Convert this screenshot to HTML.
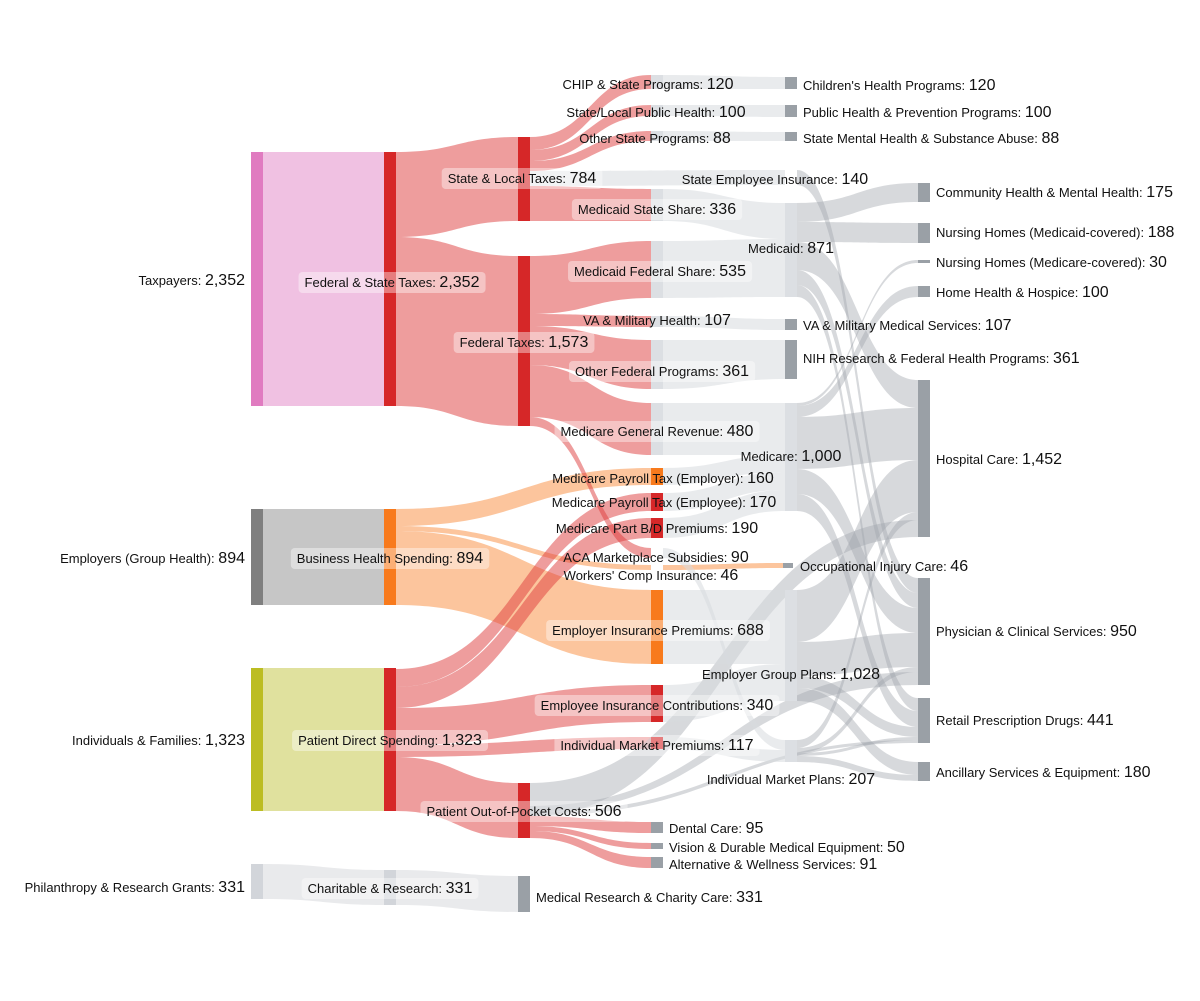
<!DOCTYPE html>
<html><head><meta charset="utf-8">
<style>
html,body{margin:0;padding:0;background:#fff;}
svg{display:block;}
text{font-family:"Liberation Sans",Arial,sans-serif;font-size:13px;fill:#111;}
tspan.n{font-size:16px;}
</style></head>
<body>
<svg id="s" width="1200" height="1001" xmlns="http://www.w3.org/2000/svg"><g id="L"></g><g id="N"></g><g id="T"></g></svg>
<script>
var NS="http://www.w3.org/2000/svg";
var L=document.getElementById('L'),N=document.getElementById('N'),T=document.getElementById('T');
function el(p,tag,a){var e=document.createElementNS(NS,tag);for(var k in a)e.setAttribute(k,a[k]);p.appendChild(e);return e;}
var RED='rgba(222,60,60,0.5)',ORG='rgba(249,140,60,0.5)',GRY='rgba(160,165,172,0.42)',LG='rgba(215,218,222,0.55)';
function link(x0,a0,b0,x1,a1,b1,c){
 var m=(x0+x1)/2;
 var d='M'+x0+','+a0+' C'+m+','+a0+' '+m+','+a1+' '+x1+','+a1+' L'+x1+','+b1+' C'+m+','+b1+' '+m+','+b0+' '+x0+','+b0+' Z';
 el(L,'path',{d:d,fill:c});
}
function node(x,y0,y1,c,w){el(N,'rect',{x:x,y:y0,width:w||12,height:y1-y0,fill:c});}
function lab(x,y,t,n,anchor,bg){
 var e=el(T,'text',{x:x,y:y,'text-anchor':anchor||'start'});
 e.appendChild(document.createTextNode(t+': '));
 var s=el(e,'tspan',{'class':'n'});s.textContent=n;
 if(bg){var b=e.getBBox();var r=document.createElementNS(NS,'rect');
  r.setAttribute('x',b.x-6);r.setAttribute('y',b.y-2);r.setAttribute('width',b.width+12);r.setAttribute('height',b.height+4);
  r.setAttribute('rx',4);r.setAttribute('fill','rgba(255,255,255,0.4)');T.insertBefore(r,e);}
}
// col0->col1
link(263,152,406,384,152,406,'#f0c1e2');
link(263,509,605,384,509,605,'#c6c6c6');
link(263,668,811,384,668,811,'#e0e19e');
link(263,864,899,384,870,905,'#e9eaec');
// col1->col2/3
link(396,152,237,518,137,221,RED);
link(396,237,406,518,256,426,RED);
link(396,509,526,651,468,485,ORG);
link(396,526,531,651,565,570,ORG);
link(396,531,605,651,590,664,ORG);
link(396,669,687,651,493,511,RED);
link(396,687,708,651,518,538,RED);
link(396,708,745,651,685,722,RED);
link(396,745,757,651,737,749,RED);
link(396,757,811,518,783,838,RED);
link(396,870,905,518,876,912,'#e9eaec');
// col2->col3
link(530,137,150,651,75,89,RED);
link(530,150,161,651,105,116,RED);
link(530,161,171,651,131,141,RED);
link(530,171,186,785,170,185,LG);
link(530,186,221,651,189,221,RED);
link(530,256,314,651,241,298,RED);
link(530,314,326,651,316,327,RED);
link(530,326,365,651,340,389,RED);
link(530,365,417,651,403,455,RED);
link(530,417,426,651,548,558,RED);
link(530,783,816,918,520,537,GRY);
link(530,806,812,918,672,685,GRY);
link(530,812,816,918,740,743,GRY);
link(530,816,826,651,822,833,RED);
link(530,826,831,651,843,849,RED);
link(530,831,838,651,857,868,RED);
// col3->col4
link(663,75,89,785,77,89,LG);
link(663,105,116,785,105,117,LG);
link(663,131,141,785,132,141,LG);
link(663,189,221,785,203,239,LG);
link(663,241,298,785,239,297,LG);
link(663,316,327,785,319,330,LG);
link(663,340,389,785,340,379,LG);
link(663,403,455,785,403,455,LG);
link(663,468,485,785,455,472,LG);
link(663,493,511,785,472,490,LG);
link(663,518,538,785,490,511,LG);
link(663,565,570,783,563,568,ORG);
link(663,548,558,785,740,750,LG);
link(663,590,664,785,590,664,LG);
link(663,685,722,785,664,701,LG);
link(663,737,749,785,750,762,LG);
// col4->col5
link(797,170,185,918,578,593,GRY);
link(797,203,222,918,183,202,GRY);
link(797,222,242,918,223,243,GRY);
link(797,242,270,918,380,408,GRY);
link(797,270,285,918,593,608,GRY);
link(797,285,297,918,698,711,GRY);
link(797,403,406,918,260,263,GRY);
link(797,406,417,918,286,297,GRY);
link(797,417,469,918,408,460,GRY);
link(797,469,494,918,608,633,GRY);
link(797,494,511,918,711,727,GRY);
link(797,590,642,918,460,512,GRY);
link(797,642,676,918,633,667,GRY);
link(797,676,688,918,727,737,GRY);
link(797,688,701,918,762,775,GRY);
link(797,740,748,918,512,520,GRY);
link(797,748,753,918,667,672,GRY);
link(797,753,756,918,737,740,GRY);
link(797,756,762,918,775,781,GRY);
// nodes
node(251,152,406,'#e07bc0');node(251,509,605,'#7f7f7f');node(251,668,811,'#bcbd22');node(251,864,899,'#d2d5da');
node(384,152,406,'#d62728');node(384,509,605,'#f87a1c');node(384,668,811,'#d62728');node(384,870,905,'#d2d5da');
node(518,137,221,'#d62728');node(518,256,426,'#d62728');node(518,783,838,'#d62728');node(518,876,912,'#9aa0a6');
var lgn='#dcdfe3';
node(651,75,89,lgn);node(651,105,116,lgn);node(651,131,141,lgn);node(651,189,221,lgn);node(651,241,298,lgn);
node(651,316,327,lgn);node(651,340,389,lgn);node(651,403,455,lgn);
node(651,468,485,'#f87a1c');node(651,493,511,'#d62728');node(651,518,538,'#d62728');
node(651,590,664,'#f87a1c');node(651,685,722,'#d62728');node(651,737,749,'#d62728');
node(651,822,833,'#9aa0a6');node(651,843,849,'#9aa0a6');node(651,857,868,'#9aa0a6');
node(785,77,89,'#9aa0a6');node(785,105,117,'#9aa0a6');node(785,132,141,'#9aa0a6');
node(785,203,297,lgn);node(785,319,330,'#9aa0a6');node(785,340,379,'#9aa0a6');node(785,403,511,lgn);
node(783,563,568,'#9aa0a6',10);node(785,590,701,lgn);node(785,740,762,lgn);
node(918,183,202,'#9aa0a6');node(918,223,243,'#9aa0a6');node(918,260,263,'#9aa0a6');node(918,286,297,'#9aa0a6');
node(918,380,537,'#9aa0a6');node(918,578,685,'#9aa0a6');node(918,698,743,'#9aa0a6');node(918,762,781,'#9aa0a6');
// labels
lab(245,285,'Taxpayers','2,352','end');
lab(245,563,'Employers (Group Health)','894','end');
lab(245,745,'Individuals & Families','1,323','end');
lab(245,892,'Philanthropy & Research Grants','331','end');
lab(392,287,'Federal & State Taxes','2,352','middle',1);
lab(390,563,'Business Health Spending','894','middle',1);
lab(390,745,'Patient Direct Spending','1,323','middle',1);
lab(390,893,'Charitable & Research','331','middle',1);
lab(522,183,'State & Local Taxes','784','middle',1);
lab(524,347,'Federal Taxes','1,573','middle',1);
lab(524,816,'Patient Out-of-Pocket Costs','506','middle',1);
lab(536,902,'Medical Research & Charity Care','331','start');
lab(648,89,'CHIP & State Programs','120','middle');
lab(656,117,'State/Local Public Health','100','middle');
lab(655,143,'Other State Programs','88','middle');
lab(657,214,'Medicaid State Share','336','middle',1);
lab(660,276,'Medicaid Federal Share','535','middle',1);
lab(657,325,'VA & Military Health','107','middle');
lab(662,376,'Other Federal Programs','361','middle',1);
lab(657,436,'Medicare General Revenue','480','middle',1);
lab(663,483,'Medicare Payroll Tax (Employer)','160','middle');
lab(664,507,'Medicare Payroll Tax (Employee)','170','middle');
lab(657,533,'Medicare Part B/D Premiums','190','middle');
lab(656,562,'ACA Marketplace Subsidies','90','middle');
lab(651,580,'Workers\' Comp Insurance','46','middle');
lab(658,635,'Employer Insurance Premiums','688','middle',1);
lab(657,710,'Employee Insurance Contributions','340','middle',1);
lab(657,750,'Individual Market Premiums','117','middle',1);
lab(669,833,'Dental Care','95','start');
lab(669,852,'Vision & Durable Medical Equipment','50','start');
lab(669,869,'Alternative & Wellness Services','91','start');
lab(803,90,"Children's Health Programs",'120','start');
lab(803,117,'Public Health & Prevention Programs','100','start');
lab(803,143,'State Mental Health & Substance Abuse','88','start');
lab(775,184,'State Employee Insurance','140','middle');
lab(791,253,'Medicaid','871','middle');
lab(803,330,'VA & Military Medical Services','107','start');
lab(803,363,'NIH Research & Federal Health Programs','361','start');
lab(791,461,'Medicare','1,000','middle');
lab(800,571,'Occupational Injury Care','46','start');
lab(791,679,'Employer Group Plans','1,028','middle');
lab(791,784,'Individual Market Plans','207','middle');
lab(936,197,'Community Health & Mental Health','175','start');
lab(936,237,'Nursing Homes (Medicaid-covered)','188','start');
lab(936,267,'Nursing Homes (Medicare-covered)','30','start');
lab(936,297,'Home Health & Hospice','100','start');
lab(936,464,'Hospital Care','1,452','start');
lab(936,636,'Physician & Clinical Services','950','start');
lab(936,725,'Retail Prescription Drugs','441','start');
lab(936,777,'Ancillary Services & Equipment','180','start');
</script>
</body></html>
